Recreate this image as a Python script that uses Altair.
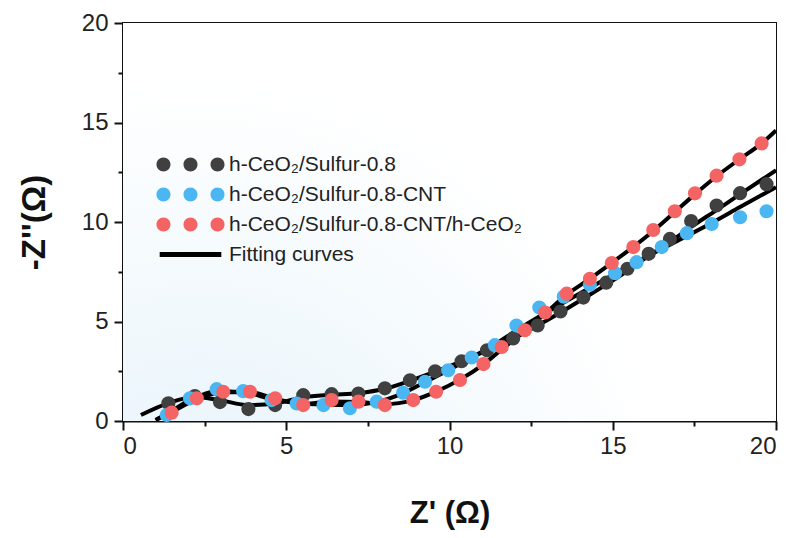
import altair as alt
import pandas as pd

series_names = ["h-CeO₂/Sulfur-0.8", "h-CeO₂/Sulfur-0.8-CNT", "h-CeO₂/Sulfur-0.8-CNT/h-CeO₂"]
fit_name = "Fitting curves"
series_colors = ["#404040", "#4ab6f2", "#f46464"]

black_x = [1.39, 2.2, 2.97, 3.84, 4.66, 5.52, 6.39, 7.21, 8.02, 8.79, 9.56, 10.37, 11.15, 11.95, 12.7, 13.4, 14.1, 14.8, 15.45, 16.1, 16.75, 17.4, 18.18, 18.9, 19.71]
black_y = [0.89, 1.25, 0.95, 0.6, 0.8, 1.3, 1.35, 1.38, 1.64, 2.05, 2.5, 3.0, 3.55, 4.15, 4.8, 5.5, 6.2, 6.95, 7.65, 8.4, 9.15, 10.05, 10.83, 11.45, 11.9]

blue_x = [1.34, 2.05, 2.87, 3.68, 4.55, 5.32, 6.14, 6.95, 7.77, 8.58, 9.25, 9.96, 10.68, 11.39, 12.05, 12.75, 13.5, 14.3, 15.07, 15.73, 16.5, 17.27, 18.03, 18.9, 19.71]
blue_y = [0.3, 1.14, 1.6, 1.5, 1.05, 0.88, 0.8, 0.64, 0.97, 1.42, 1.97, 2.55, 3.19, 3.81, 4.8, 5.7, 6.25, 6.85, 7.43, 7.98, 8.74, 9.44, 9.9, 10.24, 10.54]

red_x = [1.49, 2.26, 3.07, 3.89, 4.66, 5.52, 6.39, 7.21, 8.02, 8.89, 9.59, 10.32, 11.04, 11.6, 12.31, 12.93, 13.59, 14.3, 14.97, 15.63, 16.24, 16.9, 17.52, 18.18, 18.88, 19.56]
red_y = [0.42, 1.14, 1.47, 1.47, 1.14, 0.8, 1.05, 0.97, 0.8, 1.05, 1.47, 2.06, 2.86, 3.72, 4.56, 5.45, 6.4, 7.15, 7.94, 8.74, 9.6, 10.54, 11.44, 12.33, 13.15, 13.95]

fit_black_x = [0.55, 1.39, 2.2, 2.97, 3.84, 4.66, 5.52, 6.39, 7.21, 8.02, 8.79, 9.56, 10.37, 11.15, 11.95, 12.7, 13.4, 14.1, 14.8, 15.45, 16.1, 16.75, 17.4, 18.18, 18.9, 20.0]
fit_black_y = [0.3, 0.9, 1.2, 1.05, 0.8, 0.88, 1.2, 1.32, 1.4, 1.62, 2.02, 2.48, 3.0, 3.55, 4.15, 4.8, 5.45, 6.15, 6.85, 7.55, 8.3, 9.0, 9.75, 10.6, 11.4, 12.6]

fit_blue_x = [1.0, 1.34, 2.05, 2.87, 3.68, 4.55, 5.32, 6.14, 6.95, 7.77, 8.58, 9.25, 9.96, 10.68, 11.39, 12.05, 12.75, 13.5, 14.3, 15.07, 15.73, 16.5, 17.27, 18.03, 18.9, 20.0]
fit_blue_y = [0.05, 0.35, 1.05, 1.5, 1.45, 1.1, 0.9, 0.82, 0.8, 0.95, 1.4, 1.95, 2.55, 3.2, 3.85, 4.55, 5.25, 5.95, 6.7, 7.4, 8.0, 8.65, 9.3, 9.95, 10.75, 11.75]

fit_red_x = [1.0, 1.49, 2.26, 3.07, 3.89, 4.66, 5.52, 6.39, 7.21, 8.02, 8.89, 9.59, 10.32, 11.04, 11.6, 12.31, 12.93, 13.59, 14.3, 14.97, 15.63, 16.24, 16.9, 17.52, 18.18, 18.88, 19.56, 20.0]
fit_red_y = [0.05, 0.45, 1.1, 1.45, 1.45, 1.12, 0.85, 0.98, 0.95, 0.85, 1.05, 1.48, 2.08, 2.85, 3.6, 4.52, 5.4, 6.35, 7.15, 7.95, 8.75, 9.55, 10.5, 11.4, 12.3, 13.15, 13.95, 14.6]

x_ticks = [0, 2.5, 5, 7.5, 10, 12.5, 15, 17.5, 20]
y_ticks = [0, 2.5, 5, 7.5, 10, 12.5, 15, 17.5, 20]

W, H = 653, 398

fit_rows = []
for name, xs, ys in zip(series_names, [fit_black_x, fit_blue_x, fit_red_x], [fit_black_y, fit_blue_y, fit_red_y]):
    for i, (a, b) in enumerate(zip(xs, ys)):
        fit_rows.append({"curve": name, "x": a, "y": b, "i": i})
fits = pd.DataFrame(fit_rows)

legend_entries = series_names + [fit_name]
legend_df = pd.DataFrame({"series": legend_entries})

dots_path = ("M-4.86,0A1,1 0 1,0 -2.86,0A1,1 0 1,0 -4.86,0Z "
             "M-1,0A1,1 0 1,0 1,0A1,1 0 1,0 -1,0Z "
             "M2.86,0A1,1 0 1,0 4.86,0A1,1 0 1,0 2.86,0Z")
bar_path = "M-4.4,-0.36H4.4V0.36H-4.4Z"

color_scale = alt.Scale(domain=legend_entries, range=series_colors + ["#000000"])
shape_scale = alt.Scale(domain=legend_entries, range=[dots_path] * 3 + [bar_path])

tick_cond = {"condition": {"test": "datum.value % 5 === 0", "value": 9}, "value": 5}

x_enc = alt.X("x:Q", scale=alt.Scale(domain=[0, 20], nice=False),
              axis=alt.Axis(values=x_ticks, title="Z' (Ω)",
                            labelExpr="datum.value % 5 === 0 ? datum.label : ''",
                            tickSize=tick_cond, labelOverlap=False, labelPadding=4,
                            titlePadding=40, titleFontSize=31))
y_enc = alt.Y("y:Q", scale=alt.Scale(domain=[0, 20], nice=False),
              axis=alt.Axis(values=y_ticks, title="-Z''(Ω)",
                            labelExpr="datum.value % 5 === 0 ? datum.label : ''",
                            tickSize=tick_cond, labelOverlap=False, labelPadding=6,
                            titlePadding=30, titleFontSize=33))

bg = alt.Chart(pd.DataFrame({"k": [0]})).mark_rect(
    fill=alt.Gradient(gradient="radial",
                      stops=[alt.GradientStop(color="#e4f2fa", offset=0),
                             alt.GradientStop(color="#ffffff", offset=1)],
                      x1=0.12, y1=1.0, x2=0.12, y2=1.0, r1=0, r2=0.72)
).encode(x=alt.value(0), x2=alt.value(W), y=alt.value(0), y2=alt.value(H))

lines = alt.Chart(fits).mark_line(color="black", strokeWidth=4, interpolate="monotone", clip=True).encode(
    x=x_enc, y=y_enc, detail="curve:N", order="i:Q")

dot_layers = []
for name, xs, ys, col in zip(series_names, [black_x, blue_x, red_x], [black_y, blue_y, red_y], series_colors):
    df = pd.DataFrame({"x": xs, "y": ys})
    dot_layers.append(
        alt.Chart(df).mark_circle(size=200, opacity=1, color=col).encode(x="x:Q", y="y:Q")
    )

leg = alt.Legend(title=None, orient="none", legendX=57, legendY=131,
                 symbolSize=196, labelOffset=28, labelFontSize=21,
                 labelFont="Liberation Sans", labelColor="#222222",
                 rowPadding=8, symbolStrokeWidth=0, labelLimit=0, symbolOpacity=1)

legend_layer = alt.Chart(legend_df).mark_point(filled=True, opacity=0).encode(
    color=alt.Color("series:N", scale=color_scale, legend=leg),
    shape=alt.Shape("series:N", scale=shape_scale, legend=leg))

chart = alt.layer(bg, lines, *dot_layers, legend_layer).properties(
    width=W, height=H,
    autosize=alt.AutoSizeParams(type="none"),
    padding={"left": 123, "top": 23, "right": 18, "bottom": 117},
    background="white",
).configure_view(stroke="#111111", strokeWidth=2).configure_axis(
    domainColor="#111111", domainWidth=2, tickColor="#111111", tickWidth=2,
    labelFont="Liberation Sans", labelFontSize=24, labelColor="#222222",
    titleFont="Liberation Sans", titleFontWeight="bold", titleColor="#111111",
    grid=False)

chart.save("out.html", embed_options={"renderer": "svg", "actions": False})
